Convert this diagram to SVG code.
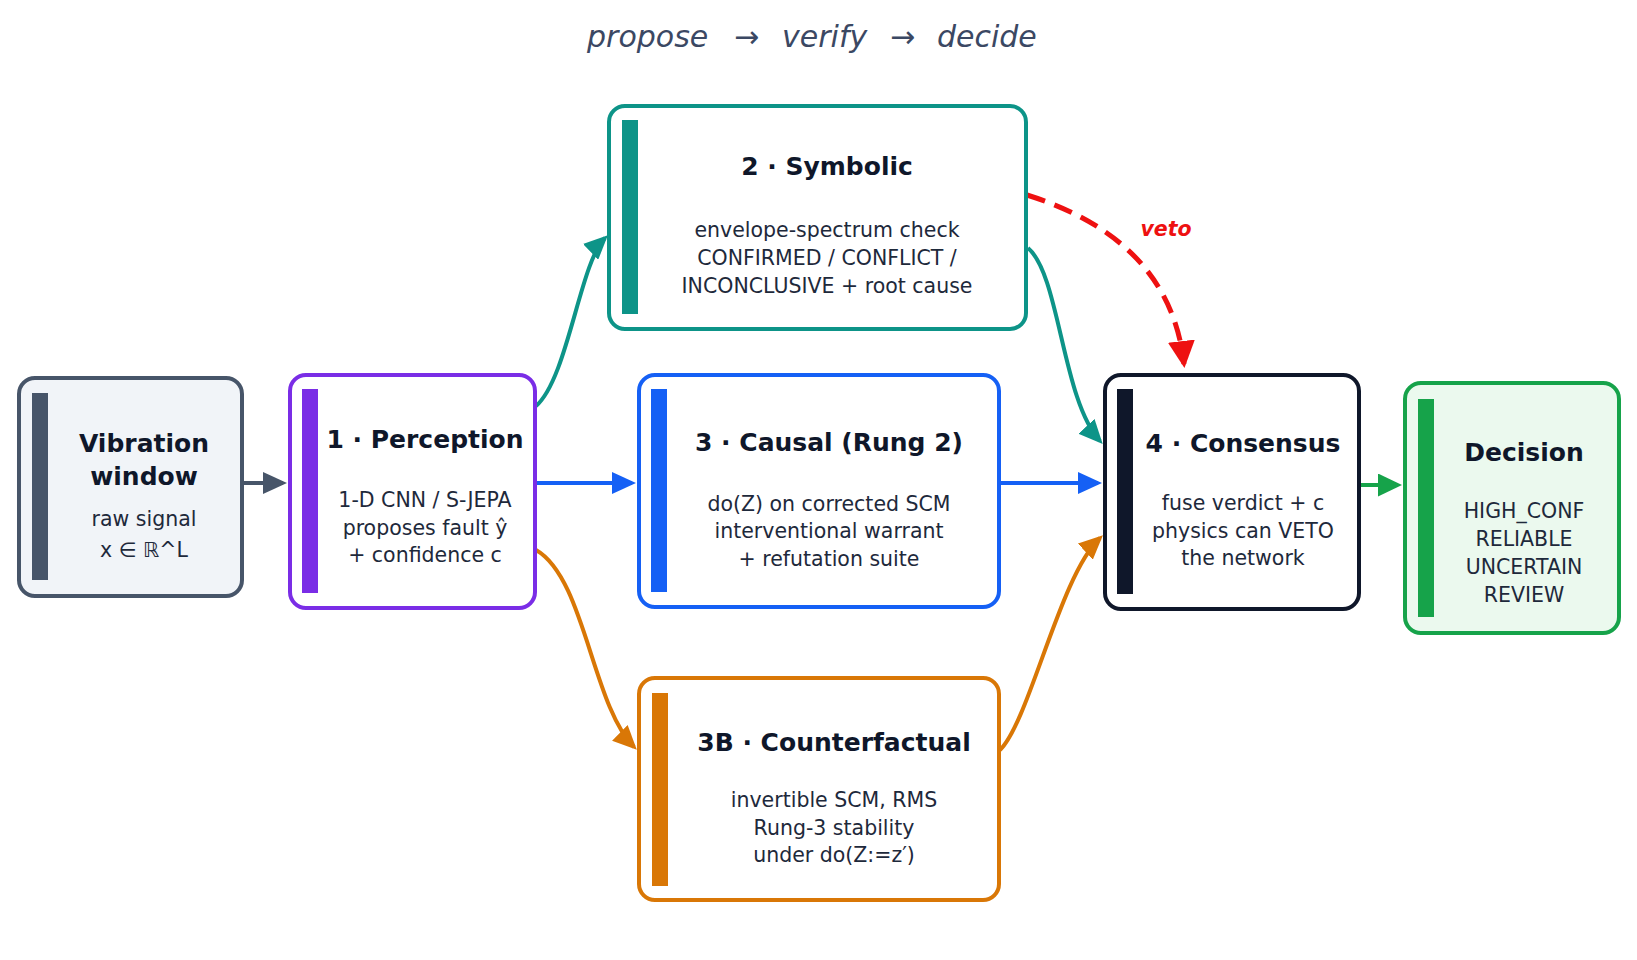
<svg xmlns="http://www.w3.org/2000/svg" width="1637" height="960" viewBox="0 0 1637 960">
<style>
.box{stroke-width:4;}
.t{font-family:"DejaVu Sans",sans-serif;font-weight:bold;font-size:25px;fill:#0f172a;text-anchor:middle;}
.b{font-family:"DejaVu Sans",sans-serif;font-size:20.5px;fill:#1e293b;text-anchor:middle;}
.c{fill:none;stroke-width:4;}
</style>
<defs>
<marker id="mSlate" markerUnits="userSpaceOnUse" viewBox="0 0 24 22" markerWidth="24" markerHeight="22" refX="20" refY="11" orient="auto"><path d="M0,0 L24,11 L0,22 z" fill="#475569"/></marker>
<marker id="mBlue" markerUnits="userSpaceOnUse" viewBox="0 0 24 22" markerWidth="24" markerHeight="22" refX="20" refY="11" orient="auto"><path d="M0,0 L24,11 L0,22 z" fill="#1560f5"/></marker>
<marker id="mTeal" markerUnits="userSpaceOnUse" viewBox="0 0 24 22" markerWidth="24" markerHeight="22" refX="20" refY="11" orient="auto"><path d="M0,0 L24,11 L0,22 z" fill="#0d9488"/></marker>
<marker id="mOrange" markerUnits="userSpaceOnUse" viewBox="0 0 24 22" markerWidth="24" markerHeight="22" refX="20" refY="11" orient="auto"><path d="M0,0 L24,11 L0,22 z" fill="#d97706"/></marker>
<marker id="mGreen" markerUnits="userSpaceOnUse" viewBox="0 0 24 23" markerWidth="24" markerHeight="23" refX="20" refY="11.5" orient="auto"><path d="M0,0 L24,11.5 L0,23 z" fill="#16a34a"/></marker>
<marker id="mRed" markerUnits="userSpaceOnUse" viewBox="0 0 27 27" markerWidth="27" markerHeight="27" refX="23" refY="13.5" orient="auto"><path d="M0,0 L27,13.5 L0,27 z" fill="#ee1111"/></marker>
</defs>
<rect width="1637" height="960" fill="#ffffff"/>

<g id="title" font-family="DejaVu Sans, sans-serif" font-style="italic" font-size="30" fill="#3b4863">
<text x="587" y="47">propose</text>
<text x="734" y="47">→</text>
<text x="782" y="47">verify</text>
<text x="890" y="47">→</text>
<text x="937" y="47">decide</text>
</g>

<g id="connectors">
<path class="c" d="M243,483 L283,483" stroke="#475569" marker-end="url(#mSlate)"/>
<path class="c" d="M536,483 L632,483" stroke="#1560f5" marker-end="url(#mBlue)"/>
<path class="c" d="M1000,483 L1098,483" stroke="#1560f5" marker-end="url(#mBlue)"/>
<path class="c" d="M1360,485 L1398,485" stroke="#16a34a" marker-end="url(#mGreen)"/>
<path class="c" d="M536,406 C568,378 580,262 605,238" stroke="#0d9488" marker-end="url(#mTeal)"/>
<path class="c" d="M536,550 C585,578 592,705 634,747" stroke="#d97706" marker-end="url(#mOrange)"/>
<path class="c" d="M1028,248 C1060,275 1062,400 1100,441" stroke="#0d9488" marker-end="url(#mTeal)"/>
<path class="c" d="M1000,750 C1030,720 1060,575 1100,538" stroke="#d97706" marker-end="url(#mOrange)"/>
<path d="M1027,195 Q1170,240 1184,364" fill="none" stroke="#ee1111" stroke-width="5" stroke-dasharray="19 10" marker-end="url(#mRed)"/>
<text x="1166" y="236" font-family="DejaVu Sans, sans-serif" font-weight="bold" font-style="italic" font-size="20.5" fill="#ee1111" text-anchor="middle">veto</text>
</g>

<g id="vibration">
<rect class="box" x="19" y="378" width="223" height="218" rx="16" fill="#f1f4f8" stroke="#475569"/>
<rect x="32" y="393" width="16" height="187" fill="#475569"/>
<text class="t" x="144" y="452">Vibration</text>
<text class="t" x="144" y="485">window</text>
<text class="b" x="144" y="526">raw signal</text>
<text class="b" x="144" y="557">x ∈ ℝ^L</text>
</g>

<g id="perception">
<rect class="box" x="290" y="375" width="245" height="233" rx="16" fill="#ffffff" stroke="#7a2de6"/>
<rect x="302" y="389" width="16" height="204" fill="#7a2de6"/>
<text class="t" x="425" y="448">1 · Perception</text>
<text class="b" x="425" y="507">1-D CNN / S-JEPA</text>
<text class="b" x="425" y="535">proposes fault ŷ</text>
<text class="b" x="425" y="562">+ confidence c</text>
</g>

<g id="symbolic">
<rect class="box" x="609" y="106" width="417" height="223" rx="16" fill="#ffffff" stroke="#0d9488"/>
<rect x="622" y="120" width="16" height="194" fill="#0d9488"/>
<text class="t" x="827" y="175">2 · Symbolic</text>
<text class="b" x="827" y="237">envelope-spectrum check</text>
<text class="b" x="827" y="265">CONFIRMED / CONFLICT /</text>
<text class="b" x="827" y="293">INCONCLUSIVE + root cause</text>
</g>

<g id="causal">
<rect class="box" x="639" y="375" width="360" height="232" rx="16" fill="#ffffff" stroke="#1560f5"/>
<rect x="651" y="389" width="16" height="203" fill="#1560f5"/>
<text class="t" x="829" y="451">3 · Causal (Rung 2)</text>
<text class="b" x="829" y="511">do(Z) on corrected SCM</text>
<text class="b" x="829" y="538">interventional warrant</text>
<text class="b" x="829" y="566">+ refutation suite</text>
</g>

<g id="counterfactual">
<rect class="box" x="639" y="678" width="360" height="222" rx="16" fill="#ffffff" stroke="#d97706"/>
<rect x="652" y="693" width="16" height="193" fill="#d97706"/>
<text class="t" x="834" y="751">3B · Counterfactual</text>
<text class="b" x="834" y="807">invertible SCM, RMS</text>
<text class="b" x="834" y="835">Rung-3 stability</text>
<text class="b" x="834" y="862">under do(Z:=z′)</text>
</g>

<g id="consensus">
<rect class="box" x="1105" y="375" width="254" height="234" rx="16" fill="#ffffff" stroke="#0f172a"/>
<rect x="1117" y="389" width="16" height="205" fill="#0f172a"/>
<text class="t" x="1243" y="452">4 · Consensus</text>
<text class="b" x="1243" y="510">fuse verdict + c</text>
<text class="b" x="1243" y="538">physics can VETO</text>
<text class="b" x="1243" y="565">the network</text>
</g>

<g id="decision">
<rect class="box" x="1405" y="383" width="214" height="250" rx="16" fill="#ebf9ee" stroke="#16a34a"/>
<rect x="1418" y="399" width="16" height="218" fill="#16a34a"/>
<text class="t" x="1524" y="461">Decision</text>
<text class="b" x="1524" y="518">HIGH_CONF</text>
<text class="b" x="1524" y="546">RELIABLE</text>
<text class="b" x="1524" y="574">UNCERTAIN</text>
<text class="b" x="1524" y="602">REVIEW</text>
</g>
</svg>
